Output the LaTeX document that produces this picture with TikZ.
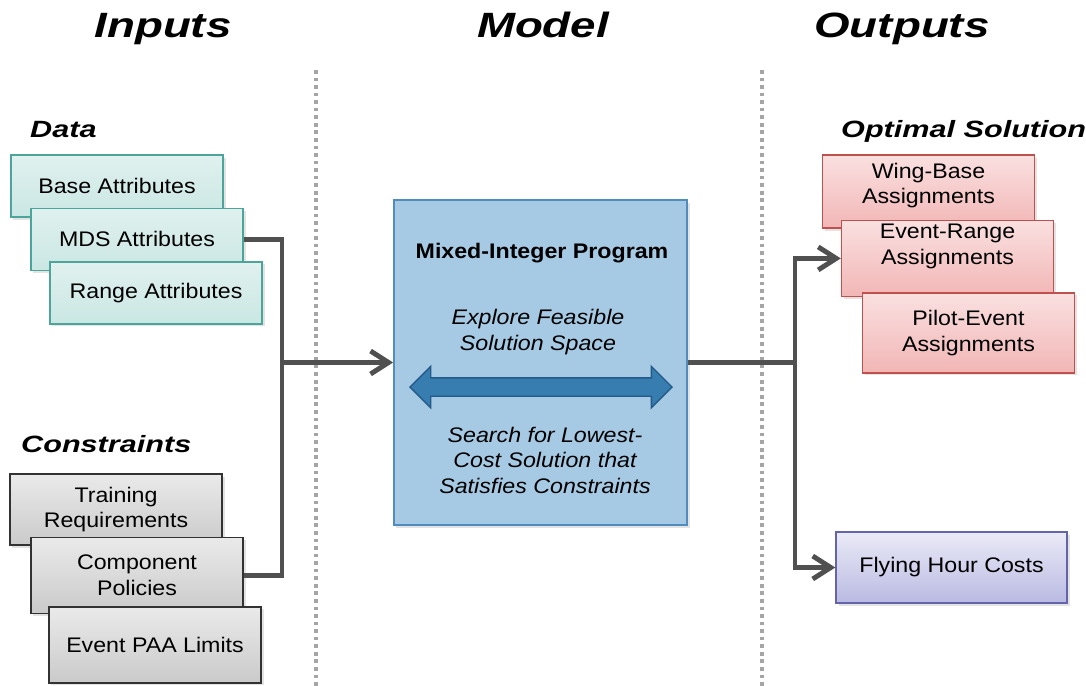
\documentclass[tikz,border=0pt]{standalone}
\usepackage{fontspec}
\setmainfont{Liberation Sans}[FakeStretch=1.1]
\newfontfamily\headfont{Liberation Sans}[FakeStretch=1.3]
\usetikzlibrary{positioning,shadows,shapes.arrows,arrows.meta}

\definecolor{databorder}{RGB}{75,165,155}
\definecolor{datatop}{RGB}{224,241,239}
\definecolor{databot}{RGB}{202,231,227}
\definecolor{consborder}{RGB}{50,50,50}
\definecolor{constop}{RGB}{234,234,234}
\definecolor{consbot}{RGB}{202,202,202}
\definecolor{outborder}{RGB}{192,80,77}
\definecolor{outtop}{RGB}{250,224,224}
\definecolor{outbot}{RGB}{242,182,182}
\definecolor{fhborder}{RGB}{100,100,170}
\definecolor{fhtop}{RGB}{234,234,247}
\definecolor{fhbot}{RGB}{186,186,226}
\definecolor{mipfill}{RGB}{166,202,228}
\definecolor{mipborder}{RGB}{80,140,190}
\definecolor{arrowfill}{RGB}{55,125,175}
\definecolor{arrowborder}{RGB}{35,90,135}
\definecolor{linkgray}{RGB}{80,80,80}
\definecolor{sepgray}{RGB}{165,165,165}

\begin{document}
\begin{tikzpicture}[x=0.2mm,y=-0.2mm,
	shadowed/.style={drop shadow={shadow xshift=0.5mm,shadow yshift=-0.5mm,opacity=0.22}},
	box/.style={shadowed,line width=0.8pt,minimum width=42.4mm,inner xsep=1mm,inner ysep=0pt,align=center,font=\fontsize{12}{14.5}\selectfont},
	databox/.style={box,draw=databorder,top color=datatop,bottom color=databot,minimum height=12.4mm},
	consbox/.style={box,draw=consborder,top color=constop,bottom color=consbot},
	outbox/.style={box,draw=outborder,top color=outtop,bottom color=outbot},
	costbox/.style={box,draw=fhborder,top color=fhtop,bottom color=fhbot},
	midtext/.style={align=center,font=\itshape\fontsize{12}{14.5}\selectfont},
	link/.style={draw=linkgray,line width=2.8pt},
	arrowlink/.style={link,-{Straight Barb[length=3.6mm,width=4.6mm,line width=2.8pt]}},
	separator/.style={draw=sepgray,line width=2.1pt,dash pattern=on 2.1pt off 2.2pt},
	heading/.style={anchor=base,font=\headfont\bfseries\itshape\fontsize{20}{24}\selectfont},
	subheading/.style={anchor=base west,font=\headfont\bfseries\itshape\fontsize{13.4}{16}\selectfont}]

		\useasboundingbox (0,0) rectangle (1086,686);

		\draw[separator] (316,70) -- (316,686);
		\draw[separator] (762,70) -- (762,686);

		\node[heading] 		(inputs)	at (163,37)	{Inputs};
		\node[heading] 		(model)		at (543,37)	{Model};
		\node[heading] 		(outputs)	at (902,37)	{Outputs};

		\node[subheading] 	(data)		at (24,137)	{Data};
		\node[subheading] 	(constr)	at (15,452)	{Constraints};
		\node[subheading] 	(optimal)	at (835,137)	{Optimal Solution};

		\node[databox] 								(base)	at (117,186)	{Base Attributes};
		\node[databox,below right=-2mm and 4mm of base.south west] 	(mds)	{MDS Attributes};
		\node[databox,below right=-2mm and 3.8mm of mds.south west] 	(range)	{Range Attributes};

		\node[consbox,minimum height=14.2mm] 						(tr)	at (116,509.5)	{Training\\Requirements};
		\node[consbox,minimum height=15.2mm,below right=-1.8mm and 4.2mm of tr.south west] 	(cp)	{Component\\Policies};
		\node[consbox,minimum height=15.2mm,below right=-1.6mm and 3.6mm of cp.south west] 	(pl)	{Event PAA Limits};

		\node[draw=mipborder,fill=mipfill,line width=1pt,shadowed,minimum width=58.6mm,minimum height=65mm] (mip) at (540.5,362.5) {};
		\node[font=\bfseries\fontsize{12}{14.5}\selectfont] 	(miptitle)	at (542,253)	{Mixed-Integer Program};
		\node[midtext] 		(explore)	at (538,332)	{Explore Feasible\\Solution Space};
		\node[double arrow,double arrow head extend=2.3mm,minimum width=8mm,minimum height=52.4mm,inner xsep=0pt,inner ysep=1.7mm,
			draw=arrowborder,fill=arrowfill,line width=0.8pt] (dbl) at (541,387) {};
		\node[midtext] 		(search)	at (545,460)	{Search for Lowest-\\Cost Solution that\\Satisfies Constraints};

		\node[outbox,minimum height=14.6mm,text depth=9.4pt] 					(wb)	at (928.5,191.5)	{Wing-Base\\Assignments};
		\node[outbox,minimum height=15.2mm,text depth=16pt,below right=-1.8mm and 3.8mm of wb.south west] 	(er)	{Event-Range\\Assignments};
		\node[outbox,minimum height=16mm,below right=-1mm and 4.2mm of er.south west] 			(pe)	{Pilot-Event\\Assignments};
		\node[costbox,minimum width=46.2mm,minimum height=14.2mm] 				(fh)	at (951.5,567.5)	{Flying Hour Costs};

		\coordinate (jin) at (282,362.5);
		\coordinate (jout) at (795,362.5);

		\draw[link] (mds.east) -| (jin) |- (cp.east);
		\draw[arrowlink] (jin) -- (mip.west);
		\draw[link] (mip.east) -- (jout);
		\draw[arrowlink] (jout) |- (er.west);
		\draw[arrowlink] (jout) |- (fh.west);
	\end{tikzpicture}
\end{document}
